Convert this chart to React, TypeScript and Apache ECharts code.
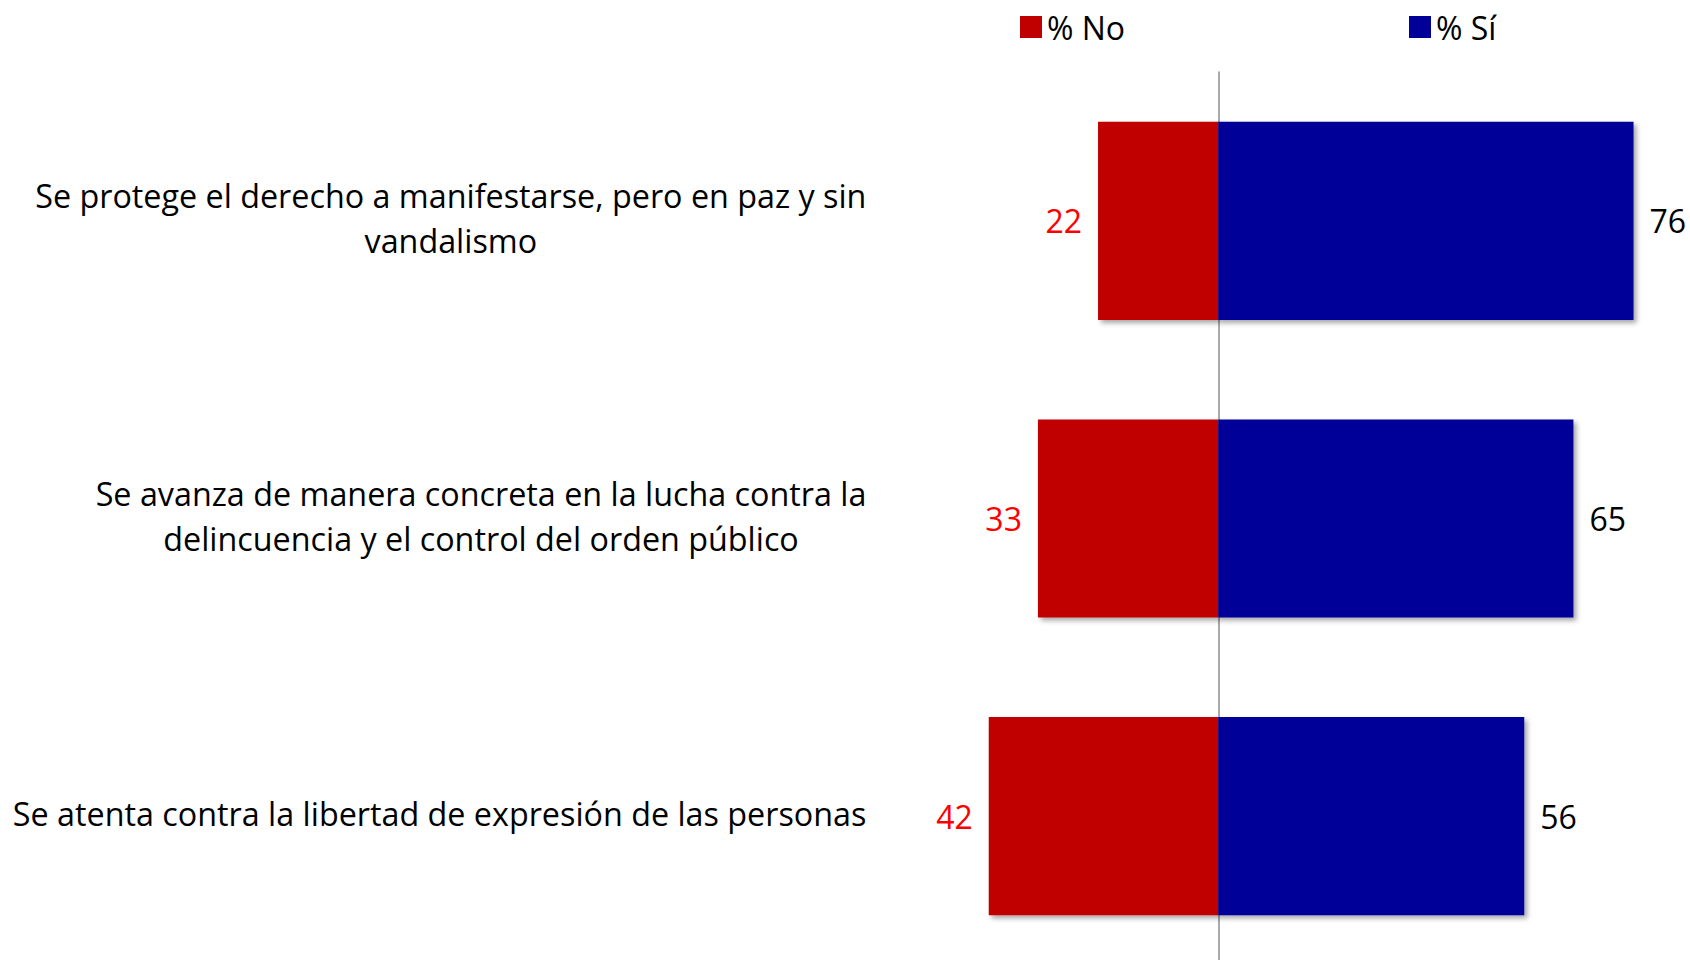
import React, { useEffect, useRef } from "react";
import * as echarts from "echarts";

const categories = [
  "Se protege el derecho a manifestarse, pero en paz y sin\nvandalismo",
  "Se avanza de manera concreta en la lucha contra la\ndelincuencia y el control del orden público",
  "Se atenta contra la libertad de expresión de las personas",
];
const seriesNames = ["% No", "% Sí"];
const noValues = [22, 33, 42];
const siValues = [76, 65, 56];

const FONT = "Open Sans";

export default function App() {
  const ref = useRef<HTMLDivElement>(null);
  useEffect(() => {
    if (!ref.current) return;
    const chart = echarts.init(ref.current, undefined, { renderer: "svg" });
    chart.setOption({
      animation: false,
      textStyle: { fontFamily: FONT },
      legend: [
        {
          data: [seriesNames[0]],
          left: 1015,
          top: 6,
          icon: "rect",
          itemWidth: 22,
          itemHeight: 22,
          itemGap: 12,
          textStyle: { fontSize: 32, color: "#000", fontFamily: FONT },
        },
        {
          data: [seriesNames[1]],
          left: 1404,
          top: 6,
          icon: "rect",
          itemWidth: 22,
          itemHeight: 22,
          itemGap: 12,
          textStyle: { fontSize: 32, color: "#000", fontFamily: FONT },
        },
      ],
      grid: {
        left: 890.4,
        right: 34.6,
        top: 72,
        height: 893,
        containLabel: false,
        outerBoundsMode: "none",
      },
      xAxis: {
        type: "value",
        min: -60,
        max: 80,
        show: false,
        splitLine: { show: false },
      },
      yAxis: {
        type: "category",
        data: categories,
        inverse: true,
        axisTick: { show: false },
        axisLine: { show: true, onZero: true, lineStyle: { color: "#8c8c8c", width: 1.5 } },
        axisLabel: {
          margin: 24,
          align: "right",
          padding: [0, 0, 6, 0],
          formatter: (v: string) =>
            v
              .split("\n")
              .map((l) => `{c|${l}}`)
              .join("\n"),
          rich: {
            c: {
              align: "center",
              fontSize: 32.3,
              lineHeight: 45,
              color: "#000",
              fontFamily: FONT,
            },
          },
        },
      },
      series: [
        {
          name: seriesNames[0],
          type: "bar",
          stack: "total",
          barWidth: "66.6%",
          data: noValues.map((v) => -v),
          itemStyle: {
            color: "#C00000",
            shadowBlur: 5,
            shadowOffsetX: 3,
            shadowOffsetY: 3,
            shadowColor: "rgba(0,0,0,0.35)",
          },
          label: {
            show: true,
            position: "left",
            distance: 16,
            color: "#FF0000",
            fontSize: 32,
            fontFamily: FONT,
            formatter: (p: any) => String(Math.abs(p.value)),
          },
        },
        {
          name: seriesNames[1],
          type: "bar",
          stack: "total",
          barWidth: "66.6%",
          data: siValues,
          itemStyle: {
            color: "#000099",
            shadowBlur: 5,
            shadowOffsetX: 3,
            shadowOffsetY: 3,
            shadowColor: "rgba(0,0,0,0.35)",
          },
          label: {
            show: true,
            position: "right",
            distance: 16,
            color: "#000",
            fontSize: 32,
            fontFamily: FONT,
          },
        },
      ],
    });
    return () => chart.dispose();
  }, []);
  return <div ref={ref} style={{ width: 1690, height: 960, position: "absolute", left: 0, top: 0 }} />;
}
